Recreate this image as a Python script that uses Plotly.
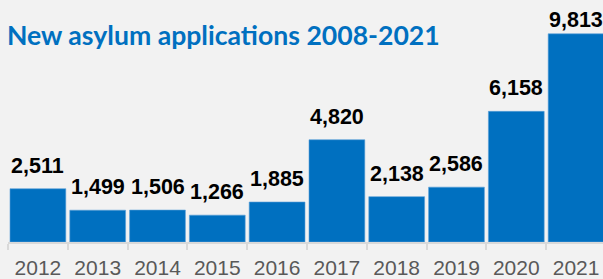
import plotly.graph_objects as go

years = ["2012", "2013", "2014", "2015", "2016", "2017", "2018", "2019", "2020", "2021"]
applications = [2511, 1499, 1506, 1266, 1885, 4820, 2138, 2586, 6158, 9813]
title_text = "New asylum applications 2008-2021"

BLUE = "#0070c0"
BG = "#f2f2f2"

fig = go.Figure(go.Bar(
    x=years, y=applications,
    marker=dict(color=BLUE, line=dict(color="#5a9fd6", width=0.6)),
    hoverinfo="skip",
))

label_shift = {"2021": 0}
for i, (yr, v) in enumerate(zip(years, applications)):
    fig.add_annotation(
        x=i, y=v, text=f"<b>{v:,}</b>", showarrow=False,
        xref="x", yref="y", yanchor="bottom", xanchor="center",
        yshift=label_shift.get(yr, 9),
        font=dict(family="Liberation Sans, Arial, sans-serif", size=21.5, color="#000000"),
    )

fig.update_layout(
    width=603, height=279,
    margin=dict(l=8, r=0, t=10, b=35),
    paper_bgcolor=BG, plot_bgcolor=BG,
    bargap=0.067,
    showlegend=False,
    title=dict(
        text=f"<b>{title_text}</b>",
        font=dict(family="Lato, sans-serif", size=26.6, color=BLUE),
        x=7 / 603, xanchor="left", xref="container",
        y=1 - 35.5 / 279, yanchor="middle", yref="container",
    ),
    xaxis=dict(
        type="category",
        range=[-0.5, 9.45],
        showline=True, linecolor="#d9d9d9", linewidth=2,
        ticks="outside", tickson="boundaries", ticklen=6, tickcolor="#d9d9d9", tickwidth=2,
        tickfont=dict(family="Liberation Sans, Arial, sans-serif", size=21, color="#595959"),
        ticklabelstandoff=6,
        showgrid=False, zeroline=False, fixedrange=True,
    ),
    yaxis=dict(
        range=[0, 10935], showticklabels=False, showline=False, ticks="",
        showgrid=False, zeroline=False, fixedrange=True,
    ),
)

fig.write_html(
    "out.html",
    config={"displayModeBar": False},
    post_script="document.body.style.margin='0';document.body.style.overflow='hidden';",
)
